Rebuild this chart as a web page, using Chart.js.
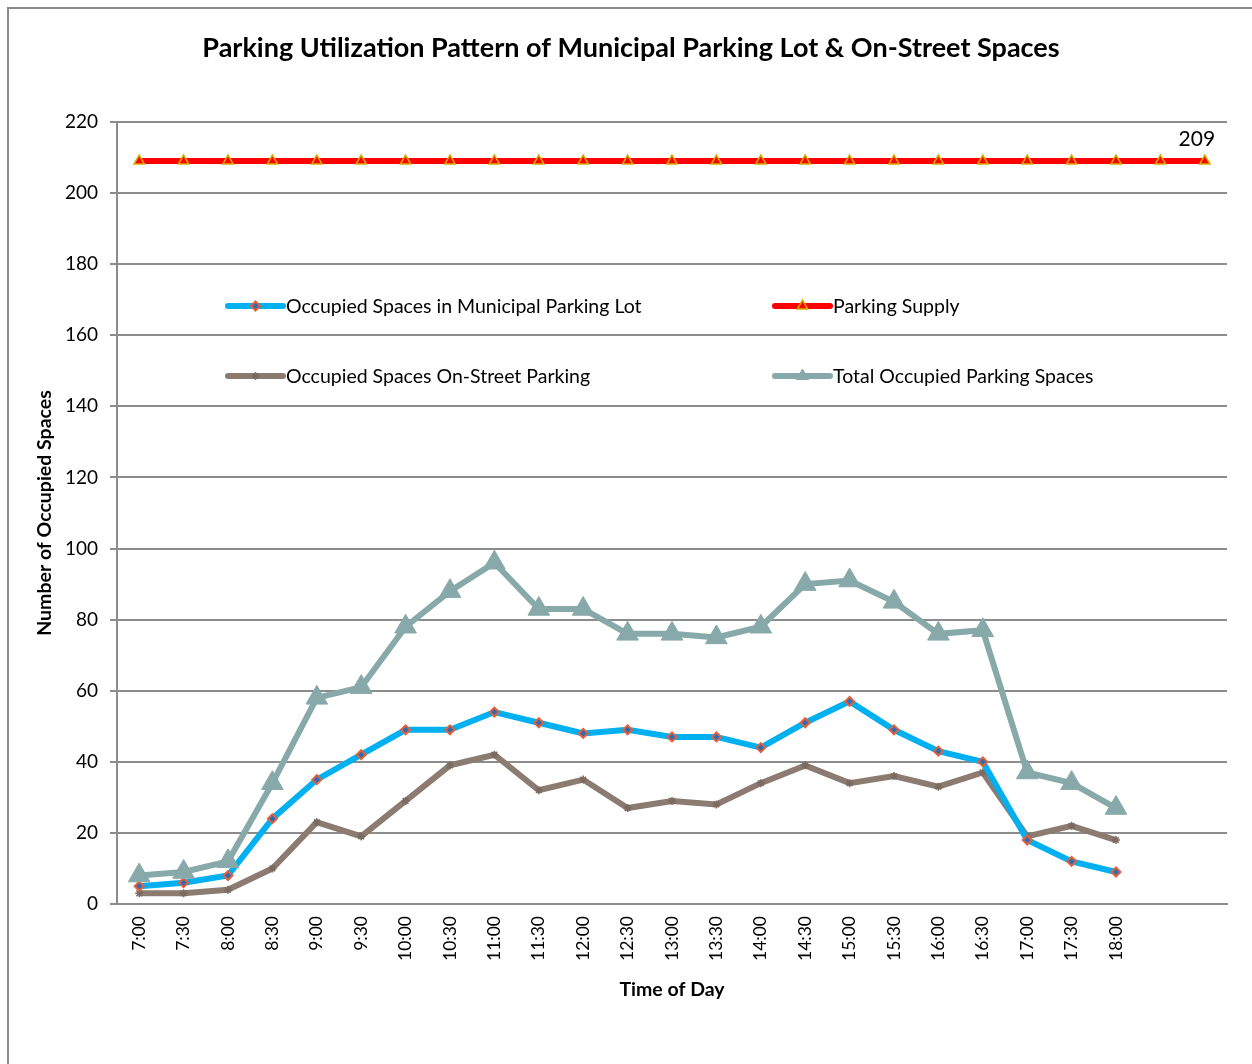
<!DOCTYPE html>
<html>
<head>
<meta charset="utf-8">
<script src="https://cdn.jsdelivr.net/npm/chart.js@4.4.1/dist/chart.umd.min.js"></script>
<style>
  html, body { margin: 0; padding: 0; background: #fff; }
  canvas { display: block; }
</style>
</head>
<body>
<canvas id="chart" width="1252" height="1064"></canvas>
<script>
// values
const timeLabels = ["7:00", "7:30", "8:00", "8:30", "9:00", "9:30", "10:00", "10:30", "11:00", "11:30",
  "12:00", "12:30", "13:00", "13:30", "14:00", "14:30", "15:00", "15:30", "16:00", "16:30",
  "17:00", "17:30", "18:00", "", ""];
const municipalLot = [5, 6, 8, 24, 35, 42, 49, 49, 54, 51, 48, 49, 47, 47, 44, 51, 57, 49, 43, 40, 18, 12, 9];
const onStreet = [3, 3, 4, 10, 23, 19, 29, 39, 42, 32, 35, 27, 29, 28, 34, 39, 34, 36, 33, 37, 19, 22, 18];
const totalOccupied = [8, 9, 12, 34, 58, 61, 78, 88, 96, 83, 83, 76, 76, 75, 78, 90, 91, 85, 76, 77, 37, 34, 27];
const parkingSupply = [209, 209, 209, 209, 209, 209, 209, 209, 209, 209, 209, 209, 209,
  209, 209, 209, 209, 209, 209, 209, 209, 209, 209, 209, 209];
const yTicks = [0, 20, 40, 60, 80, 100, 120, 140, 160, 180, 200, 220];

const FONT = "Lato, 'Noto Sans', sans-serif";
const GRID = "#8c8c8c";

// title, axis titles, frame, legend and the "209" label
const decorations = {
  id: "decorations",
  afterDraw(chart) {
    const ctx = chart.ctx;
    const area = chart.chartArea;
    ctx.save();

    // outer frame (left and top edges are visible)
    ctx.strokeStyle = "#8a8a8a";
    ctx.lineWidth = 2;
    ctx.beginPath();
    ctx.moveTo(8, 1064);
    ctx.lineTo(8, 8);
    ctx.lineTo(1252, 8);
    ctx.stroke();

    ctx.fillStyle = "#000";
    ctx.textAlign = "center";
    ctx.textBaseline = "middle";
    ctx.font = "bold 27px " + FONT;
    ctx.fillText("Parking Utilization Pattern of Municipal Parking Lot & On-Street Spaces", 631, 48);

    ctx.font = "bold 19.5px " + FONT;
    ctx.fillText("Time of Day", (area.left + area.right) / 2, 990);

    ctx.save();
    ctx.translate(45, (area.top + area.bottom) / 2);
    ctx.rotate(-Math.PI / 2);
    ctx.fillText("Number of Occupied Spaces", 0, 0);
    ctx.restore();

    // label on last supply point
    const supplyMeta = chart.getDatasetMeta(1);
    const last = supplyMeta.data[supplyMeta.data.length - 1];
    ctx.font = "21px " + FONT;
    ctx.textBaseline = "alphabetic";
    ctx.fillText(String(parkingSupply[parkingSupply.length - 1]), last.x - 8, last.y - 15);

    // legend inside plot area, two columns
    const items = [
      { ds: 0, x: 228, y: 306 },
      { ds: 1, x: 775, y: 306 },
      { ds: 2, x: 228, y: 376 },
      { ds: 3, x: 775, y: 376 }
    ];
    ctx.font = "19.5px " + FONT;
    ctx.textAlign = "left";
    ctx.textBaseline = "middle";
    items.forEach(it => {
      const ds = chart.data.datasets[it.ds];
      ctx.strokeStyle = ds.borderColor;
      ctx.lineWidth = ds.borderWidth;
      ctx.lineCap = "round";
      ctx.beginPath();
      ctx.moveTo(it.x, it.y);
      ctx.lineTo(it.x + 55, it.y);
      ctx.stroke();
      ctx.lineCap = "butt";
      ctx.fillStyle = ds.pointBackgroundColor;
      ctx.strokeStyle = ds.pointBorderColor;
      ctx.lineWidth = ds.pointBorderWidth;
      Chart.helpers.drawPoint(ctx, {
        pointStyle: ds.pointStyle,
        radius: ds.legendRadius,
        rotation: 0,
        borderWidth: ds.pointBorderWidth
      }, it.x + 27.5, it.y);
      ctx.fillStyle = "#000";
      ctx.fillText(ds.label, it.x + 58, it.y + 1);
    });

    ctx.restore();
  }
};

new Chart(document.getElementById("chart"), {
  type: "line",
  data: {
    labels: timeLabels,
    datasets: [
      {
        label: "Occupied Spaces in Municipal Parking Lot",
        data: municipalLot,
        borderColor: "#00b0f0",
        borderWidth: 6,
        pointStyle: "rectRot",
        pointRadius: 4.5,
        legendRadius: 4.5,
        pointBackgroundColor: "#2a6cb8",
        pointBorderColor: "#e2603a",
        pointBorderWidth: 2,
        order: 2
      },
      {
        label: "Parking Supply",
        data: parkingSupply,
        borderColor: "#ff0000",
        borderWidth: 6,
        pointStyle: "triangle",
        pointRadius: 6,
        legendRadius: 6,
        pointBackgroundColor: "#ff0000",
        pointBorderColor: "#d4ac00",
        pointBorderWidth: 1.5,
        order: 4
      },
      {
        label: "Occupied Spaces On-Street Parking",
        data: onStreet,
        borderColor: "#8b7b71",
        borderWidth: 6,
        pointStyle: "star",
        pointRadius: 4,
        legendRadius: 4,
        pointBackgroundColor: "#8b7b71",
        pointBorderColor: "#7a6a60",
        pointBorderWidth: 1.5,
        order: 3
      },
      {
        label: "Total Occupied Parking Spaces",
        data: totalOccupied,
        borderColor: "#88a9a9",
        borderWidth: 6,
        pointStyle: "triangle",
        pointRadius: 12.5,
        legendRadius: 7,
        pointBackgroundColor: "#88a9a9",
        pointBorderColor: "#88a9a9",
        pointBorderWidth: 1,
        order: 1
      }
    ]
  },
  options: {
    responsive: false,
    animation: false,
    layout: { padding: { top: 122, right: 25, left: 0, bottom: 0 } },
    plugins: {
      legend: { display: false },
      title: { display: false },
      tooltip: { enabled: false }
    },
    elements: { line: { tension: 0 } },
    scales: {
      x: {
        offset: true,
        afterFit(scale) { scale.height = 160; },
        grid: { display: false, drawTicks: false },
        border: { display: true, color: GRID, width: 2 },
        ticks: {
          autoSkip: false,
          minRotation: 90,
          maxRotation: 90,
          padding: 12,
          color: "#000",
          font: { family: FONT, size: 17.5 }
        }
      },
      y: {
        min: 0,
        max: 220,
        afterFit(scale) { scale.width = 117; },
        afterBuildTicks(scale) { scale.ticks = yTicks.map(v => ({ value: v })); },
        grid: { color: GRID, lineWidth: 2, tickLength: 7 },
        border: { display: true, color: GRID, width: 2 },
        ticks: {
          padding: 12,
          color: "#000",
          font: { family: FONT, size: 19 }
        }
      }
    }
  },
  plugins: [decorations]
});
</script>
</body>
</html>
